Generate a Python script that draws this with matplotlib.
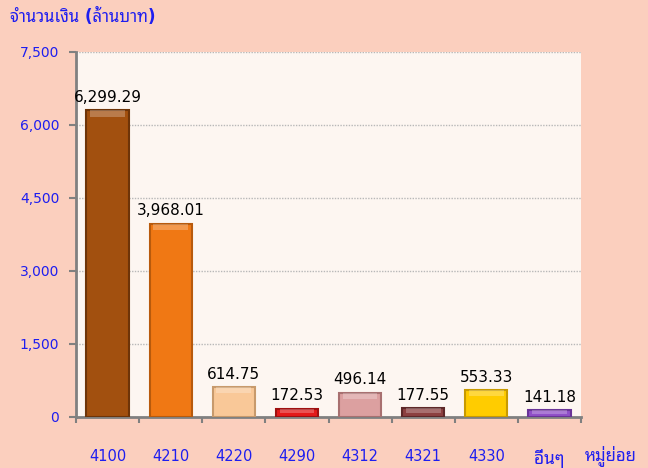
import matplotlib
matplotlib.use('Agg')
import numpy as np
import matplotlib.pyplot as plt

plt.rcParams['font.family'] = ['DejaVu Sans', 'Noto Sans Thai Looped']

categories = ['4100', '4210', '4220', '4290', '4312', '4321', '4330', 'อื่นๆ']
values = [6299.29, 3968.01, 614.75, 172.53, 496.14, 177.55, 553.33, 141.18]
bar_colors = ['#A2500F', '#F07814', '#F9C898', '#E41A1A', '#DCA0A0', '#8C4040', '#FFCC00', '#9050C8']
edge_colors = ['#6E3408', '#B85A0C', '#C89A6C', '#A01010', '#A87070', '#5E2828', '#C89A00', '#6A3498']
yticks = [0, 1500, 3000, 4500, 6000, 7500]

blue = '#1E1EF0'
fig_bg = '#FBCFBE'
plot_bg = '#FDF6F1'

fig = plt.figure(figsize=(6.48, 4.68), dpi=100, facecolor=fig_bg)
ax = fig.add_axes([0.1173, 0.109, 0.7793, 0.780])
ax.set_facecolor(plot_bg)

x = np.arange(len(categories))
ax.bar(x, values, width=0.67, color=bar_colors, edgecolor=edge_colors, linewidth=1.5, zorder=3)
# light cap on top of each bar (bevel look)
caps = [min(v * 0.5, 130) for v in values]
ax.bar(x, caps, bottom=np.array(values) - np.array(caps), width=0.55,
       color='white', alpha=0.25, linewidth=0, zorder=4)

for xi, v in zip(x, values):
    ax.annotate(f'{v:,.2f}', (xi, v), xytext=(0, 4), textcoords='offset points',
                ha='center', va='bottom', fontsize=11, color='black', zorder=5)

ax.set_xlim(-0.5, len(categories) - 0.5)
ax.set_ylim(0, 7500)
ax.set_yticks(yticks)
ax.set_yticklabels([f'{t:,}' for t in yticks], fontsize=10, color=blue)
ax.yaxis.grid(True, linestyle=(0, (1, 1)), color='#B8B8B8', linewidth=1, zorder=0)

ax.set_xticks(x)
ax.set_xticklabels(categories, fontsize=10.5, color=blue)
ax.get_xticklabels()[-1].set_fontsize(12.5)
ax.tick_params(axis='x', which='major', length=0, pad=23)
ax.set_xticks(np.arange(len(categories) + 1) - 0.5, minor=True)
ax.tick_params(axis='x', which='minor', length=4, width=1.5, color='#808080', direction='out')
ax.tick_params(axis='y', length=5, width=1.5, color='#808080', pad=7)

for side in ['top', 'right']:
    ax.spines[side].set_visible(False)
for side in ['left', 'bottom']:
    ax.spines[side].set_color('#808080')
    ax.spines[side].set_linewidth(2)

fig.text(0.015, 0.963, 'จำนวนเงิน (ล้านบาท)', fontsize=12, fontweight='bold', color=blue,
         ha='left', va='center')
fig.text(0.942, 0.027, 'หมู่ย่อย', fontsize=12, fontweight='bold', color=blue,
         ha='center', va='center')

fig.savefig('out.png', facecolor=fig_bg)
